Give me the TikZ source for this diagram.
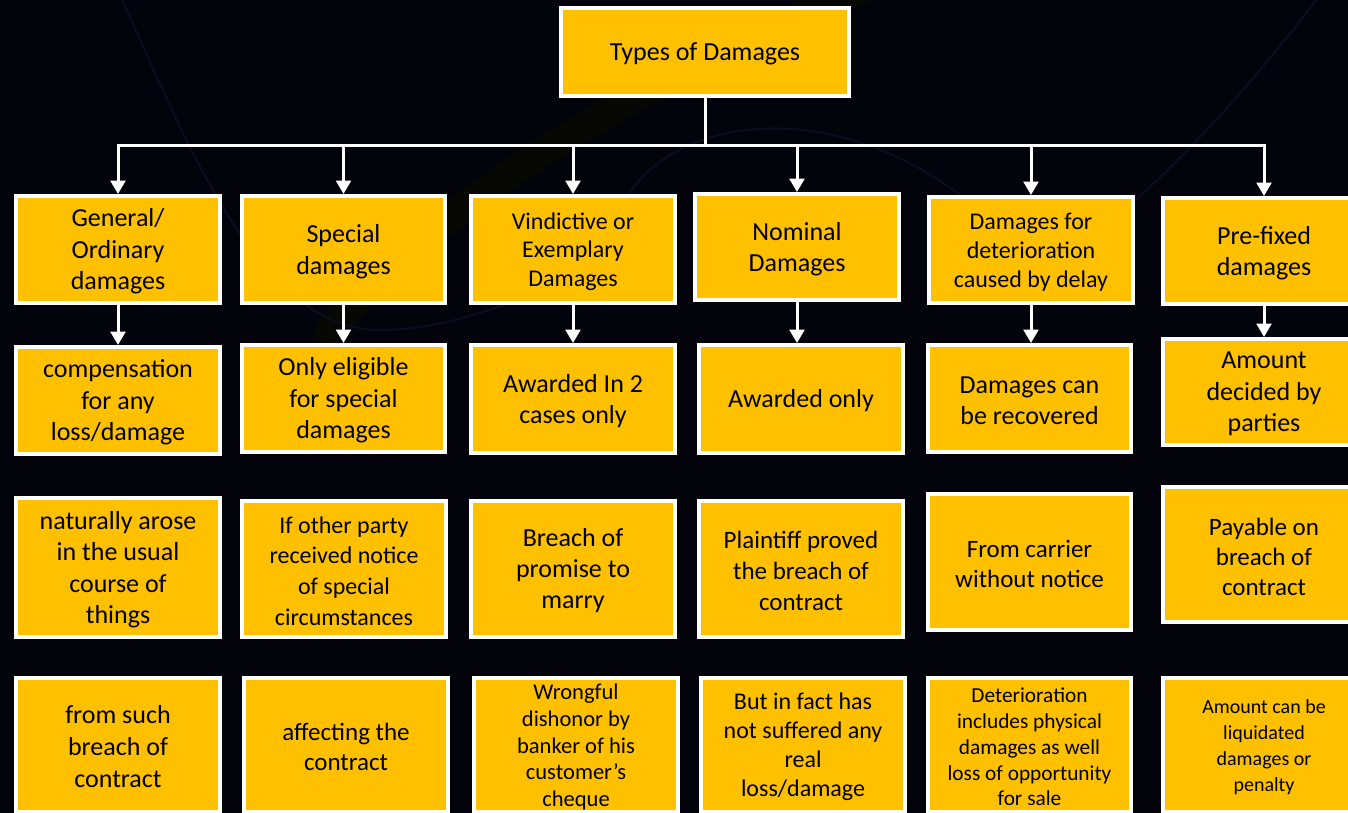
\documentclass[tikz,border=0pt]{standalone}
\usepackage{fontspec}
\setmainfont{Carlito}
\usetikzlibrary{arrows.meta}

\definecolor{bg}{RGB}{3,3,12}
\definecolor{boxyellow}{RGB}{255,192,0}
\definecolor{faintnavy}{RGB}{11,12,30}
\definecolor{faintolive}{RGB}{7,8,3}

\tikzset{
  dbox/.style={draw=white, line width=3pt, fill=boxyellow, inner sep=0pt},
  dtext/.style={align=center, inner sep=0pt, text=black},
  conn/.style={draw=white, line width=2.25pt},
  arr/.style={conn, -{Triangle[length=10pt,width=11pt]}},
  haze/.style={draw=faintnavy, line width=1.6pt},
}

% #1 name, #2-#5 outer corners (px), #6 font size (pt), #7 line skip (pt), #8 text
\newcommand\damagebox[8]{%
  \node[dbox, minimum width={(#4-#2-4)*0.75pt}, minimum height={(#5-#3-4)*0.75pt}]
       (#1) at ({(#2+#4)/2},{(#3+#5)/2}) {};
  \node[dtext, font=\fontsize{#6}{#7}\selectfont]
       (#1-text) at ([yshift=-1.5pt]#1.center) {#8};}

\begin{document}
\begin{tikzpicture}[x=0.75pt,y=-0.75pt]
  \useasboundingbox (0,0) rectangle (1348,813);
  \clip (0,0) rectangle (1348,813);
  \fill[bg] (0,0) rectangle (1348,813);

  % faint background swirls
  \draw[faintolive, line width=22pt, line cap=round]
    (860,-10) .. controls (700,60) and (480,160) .. (330,330);
  \draw[haze] (120,-5) .. controls (190,150) and (260,330) .. (380,330)
              .. controls (450,330) and (520,300) .. (560,280);
  \draw[haze] (620,210) .. controls (660,120) and (820,90) .. (960,195);
  \draw[haze] (1320,-5) .. controls (1240,100) and (1180,160) .. (1120,215);

  % title
  \damagebox{top}{559}{6}{851}{98}{19.5}{23.6}{Types of Damages}

  % first level
  \damagebox{g1}{14}{194}{222}{305}{19.5}{23.6}{General/\\Ordinary\\damages}
  \damagebox{s1}{240}{194}{447}{305}{19.5}{23.6}{Special\\damages}
  \damagebox{v1}{469}{194}{677}{305}{18}{21.4}{Vindictive or\\Exemplary\\Damages}
  \damagebox{n1}{693}{192}{901}{302}{19.5}{23.6}{Nominal\\Damages}
  \damagebox{d1}{927}{195}{1135}{305}{18}{21.75}{Damages for\\deterioration\\caused by delay}
  \damagebox{p1}{1161}{196}{1367}{306}{19.5}{23.6}{Pre-fixed\\damages}

  % second level
  \damagebox{g2}{14}{345}{222}{456}{19.5}{23.6}{compensation\\for any\\loss/damage}
  \damagebox{s2}{240}{343}{447}{454}{19.5}{23.6}{Only eligible\\for special\\damages}
  \damagebox{v2}{469}{343}{677}{455}{19.5}{23.6}{Awarded In 2\\cases only}
  \damagebox{n2}{697}{343}{905}{455}{19.5}{23.6}{Awarded only}
  \damagebox{d2}{926}{343}{1133}{454}{19.5}{23.6}{Damages can\\be recovered}
  \damagebox{p2}{1161}{337}{1367}{447}{19.5}{23.6}{Amount\\decided by\\parties}

  % third level
  \damagebox{g3}{14}{496}{222}{639}{19.5}{23.6}{naturally arose\\in the usual\\course of\\things}
  \damagebox{s3}{240}{499}{448}{639}{18}{22.9}{If other party\\received notice\\of special\\circumstances}
  \damagebox{v3}{469}{499}{677}{639}{19.5}{23.25}{Breach of\\promise to\\marry}
  \damagebox{n3}{697}{499}{905}{639}{18.75}{23.25}{Plaintiff proved\\the breach of\\contract}
  \damagebox{d3}{926}{492}{1133}{632}{18.75}{22.5}{From carrier\\without notice}
  \damagebox{p3}{1161}{485}{1367}{624}{18.75}{22.5}{Payable on\\breach of\\contract}

  % fourth level
  \damagebox{g4}{14}{676}{222}{814}{19.5}{24}{from such\\breach of\\contract}
  \damagebox{s4}{242}{676}{450}{814}{18.75}{22.5}{affecting the\\contract}
  \damagebox{v4}{472}{676}{680}{814}{16.9}{20.1}{Wrongful\\dishonor by\\banker of his\\customer’s\\cheque}
  \damagebox{n4}{699}{676}{907}{814}{18}{21.75}{But in fact has\\not suffered any\\real\\loss/damage}
  \damagebox{d4}{926}{676}{1133}{814}{16}{19.3}{Deterioration\\includes physical\\damages as well\\loss of opportunity\\for sale}
  \damagebox{p4}{1161}{676}{1367}{814}{15}{19.5}{Amount can be\\liquidated\\damages or\\penalty}

  % connectors from the title to the first level
  \coordinate (bus) at (705,146);
  \draw[conn] (top.south) -- (bus);
  \foreach \n in {g1,s1,v1,n1,d1,p1}
    \draw[arr] (bus) -| (\n.north);

  % connectors from the first to the second level
  \foreach \a/\b in {g1/g2,s1/s2,v1/v2,n1/n2,d1/d2,p1/p2}
    \draw[arr] (\a.south) -- (\a.south |- \b.north);
\end{tikzpicture}
\end{document}
